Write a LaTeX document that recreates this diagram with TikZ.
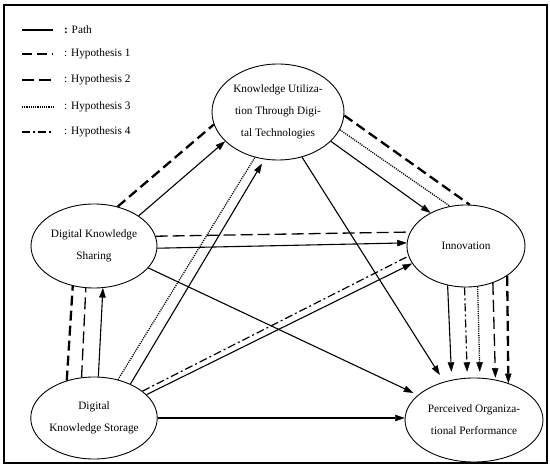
\documentclass[tikz,border=0pt]{standalone}
\usepackage{fontspec}
\setmainfont{Liberation Serif}
\usetikzlibrary{arrows.meta,shapes.geometric}
\begin{document}
\begin{tikzpicture}[x=1pt,y=-1pt,
  conc/.style={draw, ellipse, line width=0.9pt, inner sep=0pt, align=center, font=\fontsize{11.3}{22}\selectfont},
  pathline/.style={line width=1.1pt},
  headed/.style={-{Triangle[length=9.5pt,width=6.5pt,line width=0.4pt]}},
  arr/.style={pathline, headed},
  hypA/.style={line width=2.3pt, dash pattern=on 10pt off 5pt},
  hypB/.style={line width=1.3pt, dash pattern=on 12pt off 5pt},
  hypC/.style={line width=1.3pt, dash pattern=on 1.1pt off 1.1pt},
  hypD/.style={line width=1.2pt, dash pattern=on 8pt off 3pt on 2pt off 3pt},
  legtext/.style={anchor=west, inner sep=0pt, font=\fontsize{11.3}{13}\selectfont},
]
\useasboundingbox (0,0) rectangle (550,468);
\draw[line width=1.3pt] (4,5) rectangle (547,463);

% legend
\draw[pathline] (22,30) -- (53,30);
\draw[hypA] (22,54) -- (53,54);
\draw[hypB] (22,80) -- (53,80);
\draw[hypC] (22,107) -- (53,107);
\draw[hypD] (22,132) -- (53,132);
\node[legtext] (l0) at (64,30) {\textbf{:} Path};
\node[legtext] (l1) at (64,54) {: Hypothesis 1};
\node[legtext] (l2) at (64,80) {: Hypothesis 2};
\node[legtext] (l3) at (64,107) {: Hypothesis 3};
\node[legtext] (l4) at (64,132) {: Hypothesis 4};

% concepts
\node[conc, minimum width=132pt, minimum height=96pt] (kudt) at (278,112) {Knowledge Utiliza-\\tion Through Digi-\\tal Technologies};
\node[conc, minimum width=126pt, minimum height=84pt] (dks) at (94,246) {Digital Knowledge\\Sharing};
\node[conc, minimum width=118pt, minimum height=82pt] (inn) at (466,246) {Innovation};
\node[conc, minimum width=126pt, minimum height=82pt] (dkst) at (94,418) {Digital\\Knowledge Storage};
\node[conc, minimum width=138pt, minimum height=84pt] (pop) at (474,420) {Perceived Organiza-\\tional Performance};

% paths
\draw[arr] (dks.34) -- (kudt.209);
\draw[arr] (kudt.331) -- (inn.137.5);
\draw[arr, shorten >=8pt] (kudt.298) -- (pop.128);
\draw[arr] (dks.358) -- (inn.177);
\draw[arr, shorten >=5pt] (dks.338.6) -- (pop.156);
\draw[arr] (dkst.84.7) -- (dks.282);
\draw[arr, shorten >=5pt] (dkst.43) -- (kudt.254);
\draw[arr] (dkst.24) -- (inn.198);
\draw[arr] (dkst.east) -- (dkst.east -| pop.west);

% hypothesis 1
\draw[hypA] (dks.59) -- (kudt.191);
\draw[hypA] (kudt.357) -- (inn.85);
\draw[hypA] (dkst.126) -- (dks.242);
% hypothesis 2
\draw[hypB] (dks.9) -- (inn.166);
\draw[hypB] (dkst.107) -- (dks.259);
% hypothesis 3
\draw[hypC] (kudt.344) -- (inn.112);
\draw[hypC] (dkst.58) -- (kudt.243);
% hypothesis 4
\draw[hypD] (dkst.29) -- (inn.190.5);

% innovation -> performance
\draw[arr, shorten >=8pt] (inn.245) -- (pop.119);
\draw[hypD, headed, shorten >=6pt] (inn.268.6) -- (pop.99.5);
\draw[hypC, headed, shorten >=6pt] (inn.286.7) -- (pop.82);
\draw[hypB, headed, shorten >=2pt] (inn.306.5) -- (pop.62);
\draw[hypA, headed] (inn.324.3) -- (pop.47);
\end{tikzpicture}
\end{document}
